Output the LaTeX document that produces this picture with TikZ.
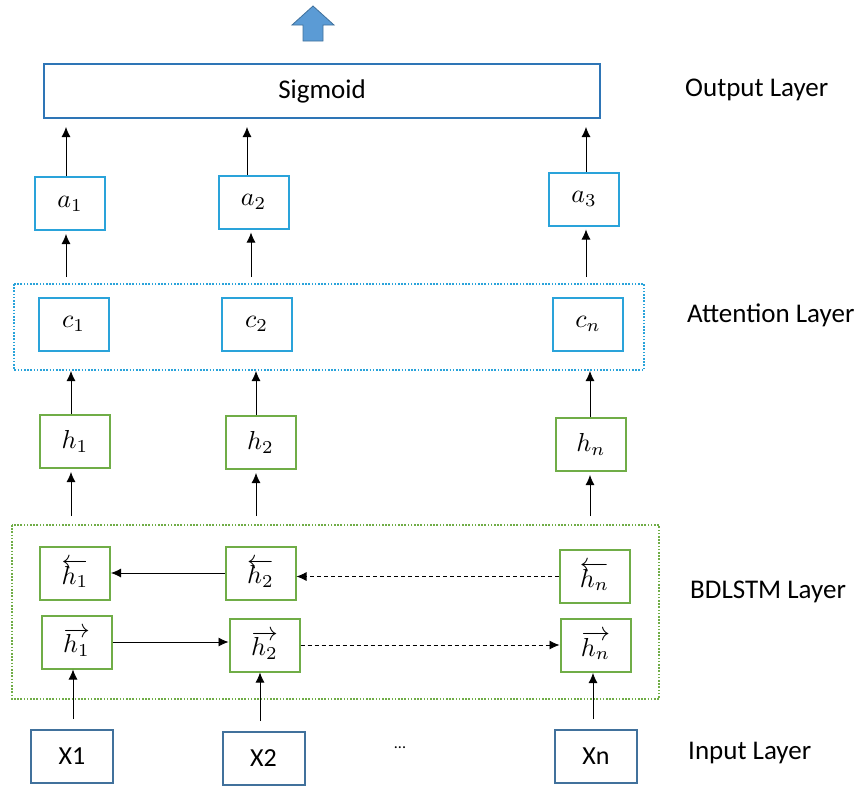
\documentclass[tikz,border=0pt]{standalone}
\usepackage{graphicx}
\usepackage{fontspec}
\setmainfont{Carlito}
\usetikzlibrary{arrows.meta}
\definecolor{sigblue}{HTML}{2E75B6}
\definecolor{attblue}{HTML}{2AA3DA}
\definecolor{lstmgreen}{HTML}{70AD47}
\definecolor{inblue}{HTML}{41719C}
\definecolor{arrowfill}{HTML}{5B9BD5}
% math symbols inside the boxes, enlarged
\newcommand\boxmath[1]{\scalebox{2.6}{$#1$}}
\tikzset{
  box/.style={draw, line width=2pt, fill=white, inner sep=0pt},
  abox/.style={box, draw=attblue, minimum width=70pt, minimum height=53pt},
  gbox/.style={box, draw=lstmgreen, minimum width=70pt, minimum height=53pt},
  xbox/.style={box, draw=inblue, minimum width=82pt, minimum height=53pt, font=\fontsize{26}{30}\selectfont},
  layerlabel/.style={anchor=west, inner sep=0pt, font=\fontsize{27}{30}\selectfont},
  arr/.style={-{Latex[length=10pt,width=9pt]}, line width=0.8pt, black},
  darr/.style={arr, dash pattern=on 4pt off 3pt},
  group/.style={line width=1.6pt, dash pattern=on 1.6pt off 1.6pt}
}
\begin{document}
\begin{tikzpicture}[x=1pt, y=-1pt]
\useasboundingbox (0,0) rectangle (866,785);

% output arrow
\draw[fill=arrowfill, draw=inblue, line width=0.8pt]
  (303,41) -- (303,25) -- (292,25) -- (313,6) -- (334,25) -- (323,25) -- (323,41) -- cycle;

% output layer
\node[box, draw=sigblue, minimum width=556pt, minimum height=54pt, font=\fontsize{27}{30}\selectfont] (sig) at (322,91) {Sigmoid};

% attention layer frame
\draw[group, draw=attblue] (14,284) rectangle (644,370);
% BDLSTM layer frame
\draw[group, draw=lstmgreen] (12,525) rectangle (659,699);

% attention weights
\node[abox] (a1) at (70,203.5) {\boxmath{a_1}};
\node[abox] (a2) at (253.5,202) {\boxmath{a_2}};
\node[abox] (a3) at (584,199) {\boxmath{a_3}};

% context vectors
\node[abox] (c1) at (73.5,324) {\boxmath{c_1}};
\node[abox] (c2) at (256.5,324) {\boxmath{c_2}};
\node[abox] (cn) at (588,324) {\boxmath{c_n}};

% hidden states
\node[gbox] (h1) at (75,441.5) {\boxmath{h_1}};
\node[gbox] (h2) at (260.5,442.5) {\boxmath{h_2}};
\node[gbox] (hn) at (591,444.5) {\boxmath{h_n}};

% backward states
\node[gbox] (hb1) at (75,573.5) {\boxmath{\overleftarrow{h_1}}};
\node[gbox] (hb2) at (260.5,573) {\boxmath{\overleftarrow{h_2}}};
\node[gbox] (hbn) at (594.5,576.5) {\boxmath{\overleftarrow{h_n}}};

% forward states
\node[gbox] (hf1) at (76.5,642) {\boxmath{\overrightarrow{h_1}}};
\node[gbox] (hf2) at (264.5,645) {\boxmath{\overrightarrow{h_2}}};
\node[gbox] (hfn) at (595.5,645.5) {\boxmath{\overrightarrow{h_n}}};

% inputs
\node[xbox] (x1) at (72,756) {X1};
\node[xbox] (x2) at (263.5,758.5) {X2};
\node[xbox] (xn) at (596,756.5) {Xn};
\node[font=\fontsize{16}{18}\selectfont] (dots) at (400,748) {...};

% layer labels
\node[layerlabel] (lout) at (685,90) {Output Layer};
\node[layerlabel] (latt) at (687,315) {Attention Layer};
\node[layerlabel] (lbd) at (690,592) {BDLSTM Layer};
\node[layerlabel] (lin) at (688,753) {Input Layer};

% free arrow ends
\coordinate (s1) at (66,127);
\coordinate (s2) at (247,127);
\coordinate (s3) at (586,127);
\coordinate (ca1) at (66,277);
\coordinate (ca2) at (251,277);
\coordinate (ca3) at (586,277);
\coordinate (t1) at (71,371);
\coordinate (t2) at (256,371);
\coordinate (t3) at (590,371);
\coordinate (b1) at (71,516);
\coordinate (b2) at (256,516);
\coordinate (b3) at (590,516);
\coordinate (i1) at (73,719);
\coordinate (i2) at (260,721);
\coordinate (i3) at (593,719);

% a -> sigmoid
\draw[arr] (s1 |- a1.north) -- (s1);
\draw[arr] (s2 |- a2.north) -- (s2);
\draw[arr] (s3 |- a3.north) -- (s3);
% attention -> a
\draw[arr, shorten >=3pt] (ca1) -- (ca1 |- a1.south);
\draw[arr, shorten >=3pt] (ca2) -- (ca2 |- a2.south);
\draw[arr, shorten >=3pt] (ca3) -- (ca3 |- a3.south);
% h -> attention
\draw[arr] (t1 |- h1.north) -- (t1);
\draw[arr] (t2 |- h2.north) -- (t2);
\draw[arr] (t3 |- hn.north) -- (t3);
% BDLSTM -> h
\draw[arr, shorten >=3pt] (b1) -- (b1 |- h1.south);
\draw[arr, shorten >=3pt] (b2) -- (b2 |- h2.south);
\draw[arr, shorten >=3pt] (b3) -- (b3 |- hn.south);

% recurrent connections
\draw[arr] (hb2.west) -- (hb2.west -| hb1.east);
\draw[darr] (hbn.west) -- (hbn.west -| hb2.east);
\draw[arr] (hf1.east) -- (hf1.east -| hf2.west);
\draw[darr] (hf2.east) -- (hf2.east -| hfn.west);

% inputs -> forward states
\draw[arr] (i1) -- (i1 |- hf1.south);
\draw[arr] (i2) -- (i2 |- hf2.south);
\draw[arr] (i3) -- (i3 |- hfn.south);
\end{tikzpicture}
\end{document}
